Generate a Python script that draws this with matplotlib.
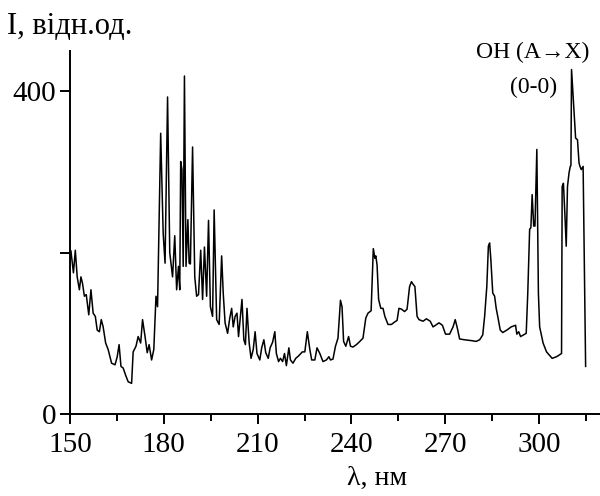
import matplotlib
matplotlib.use("Agg")
import matplotlib.pyplot as plt
from matplotlib.ticker import MultipleLocator

plt.rcParams['font.family'] = ['Liberation Serif', 'DejaVu Serif']

# emission spectrum
wavelength = [
    150.3, 151.1, 151.7, 152.3, 153.0, 153.5, 154.0, 154.6, 155.2, 156.0,
    156.7, 157.4, 158.1, 158.7, 159.4, 160.0, 160.6, 161.4, 162.2, 163.3,
    164.4, 165.1, 165.7, 166.3, 167.0, 167.8, 168.6, 169.7, 170.2, 171.1,
    171.8, 172.6, 173.2, 174.0, 174.7, 175.3, 176.1, 176.8, 177.5, 178.0,
    179.0, 179.8, 180.4, 181.2, 181.9, 182.8, 183.5, 184.1, 184.7, 185.1,
    185.4, 185.8, 186.2, 186.6, 187.1, 187.7, 188.1, 188.5, 189.2, 189.9,
    190.5, 191.1, 191.8, 192.4, 193.0, 193.7, 194.3, 194.9, 195.6, 196.1,
    196.9, 197.7, 198.5, 199.0, 199.6, 200.4, 201.1, 201.7, 202.2, 202.8,
    203.4, 203.9, 204.3, 205.0, 205.6, 206.1, 206.6, 207.3, 207.9, 208.6,
    209.2, 209.8, 210.7, 211.3, 212.0, 212.6, 213.4, 214.0, 214.8, 215.5,
    216.0, 216.7, 217.3, 218.0, 218.6, 219.2, 220.0, 220.5, 221.3, 222.2,
    223.1, 224.3, 225.1, 225.9, 226.7, 227.3, 228.3, 229.0, 229.9, 230.9,
    232.0, 232.8, 233.3, 234.1, 234.9, 235.7, 236.5, 237.0, 237.5, 238.2,
    239.1, 239.7, 240.5, 241.6, 242.7, 243.7, 244.6, 245.3, 246.3, 247.0,
    247.5, 247.8, 248.2, 248.7, 249.4, 250.1, 250.7, 251.7, 252.8, 253.8,
    254.6, 255.2, 256.0, 257.0, 257.8, 258.6, 259.2, 259.7, 260.3, 261.0,
    261.6, 262.9, 264.0, 265.2, 266.1, 266.9, 268.0, 269.1, 270.1, 271.4,
    272.5, 273.2, 273.9, 274.6, 276.2, 278.3, 279.9, 281.0, 282.0, 282.6,
    283.3, 283.8, 284.2, 284.6, 285.2, 285.8, 286.3, 286.8, 287.6, 288.4,
    289.7, 291.1, 292.5, 292.9, 293.5, 294.1, 295.0, 295.9, 296.4, 297.0,
    297.4, 297.8, 298.3, 298.7, 299.3, 299.8, 300.2, 301.3, 302.4, 304.2,
    305.6, 307.2, 307.4, 307.8, 308.3, 308.7, 309.1, 309.6, 310.0, 310.2,
    310.4, 311.0, 311.7, 312.3, 312.8, 313.1, 313.5, 314.1, 314.9,
]
intensity = [
    202, 175, 203, 170, 154, 170, 162, 146, 148, 123,
    154, 125, 121, 104, 102, 117, 108, 88, 80, 63,
    61, 71, 86, 59, 57, 48, 40, 38, 77, 84,
    96, 88, 117, 96, 76, 86, 67, 80, 146, 133,
    348, 224, 187, 393, 200, 170, 221, 154, 183, 154,
    313, 303, 183, 419, 183, 241, 187, 186, 331, 170,
    146, 148, 203, 142, 207, 146, 240, 133, 121, 253,
    117, 111, 196, 150, 113, 100, 119, 131, 108, 121,
    125, 96, 113, 142, 92, 86, 131, 88, 69, 80,
    102, 75, 67, 82, 92, 76, 69, 82, 89, 102,
    75, 65, 69, 65, 75, 60, 82, 67, 63, 69,
    72, 77, 77, 102, 80, 67, 67, 82, 75, 65,
    67, 71, 67, 68, 84, 94, 141, 133, 90, 84,
    96, 84, 83, 86, 90, 94, 119, 125, 128, 205,
    193, 196, 185, 142, 131, 131, 121, 111, 111, 114,
    116, 131, 130, 127, 130, 158, 164, 161, 158, 121,
    117, 115, 118, 115, 108, 110, 113, 110, 99, 99,
    108, 117, 106, 93, 92, 91, 90, 92, 98, 121,
    158, 208, 212, 191, 150, 146, 131, 121, 104, 101,
    104, 108, 110, 99, 102, 96, 98, 100, 150, 229,
    231, 272, 233, 233, 328, 150, 108, 88, 77, 69,
    71, 75, 282, 286, 245, 208, 282, 299, 307, 308,
    427, 388, 342, 340, 311, 307, 303, 307, 59,
]

x_ticks = [150, 180, 210, 240, 270, 300]
y_ticks = [0, 200, 400]
y_tick_labels = ["0", "", "400"]

fig = plt.figure(figsize=(6, 4.96), dpi=100)
ax = fig.add_axes([70 / 600, 82 / 496, 530 / 600, 363 / 496])

ax.plot(wavelength, intensity, color='k', lw=1.1)

ax.set_xlim(150, 319.5)
ax.set_ylim(0, 450)
ax.set_xticks(x_ticks)
ax.xaxis.set_minor_locator(MultipleLocator(15))
ax.set_yticks(y_ticks)
ax.set_yticklabels(y_tick_labels)

for side in ['top', 'right']:
    ax.spines[side].set_visible(False)
for side in ['left', 'bottom']:
    ax.spines[side].set_linewidth(1.4)
ax.tick_params(axis='both', which='major', direction='out', length=7,
               width=1.4, labelsize=21)
ax.tick_params(axis='x', which='major', pad=6)
ax.tick_params(axis='y', which='major', pad=3)
ax.tick_params(axis='x', which='minor', direction='out', length=5, width=1.4)

ax.set_xlabel("λ, нм", fontsize=20, x=0.58, labelpad=6)
fig.text(0.012, 0.975, "I, відн.од.", fontsize=22, ha='left', va='top')
ax.text(297.9, 448, "OH (A→X)", fontsize=17, ha='center', va='center',
        clip_on=False)
ax.text(298.2, 405, "(0-0)", fontsize=17, ha='center', va='center')

fig.savefig("out.png", dpi=100)
